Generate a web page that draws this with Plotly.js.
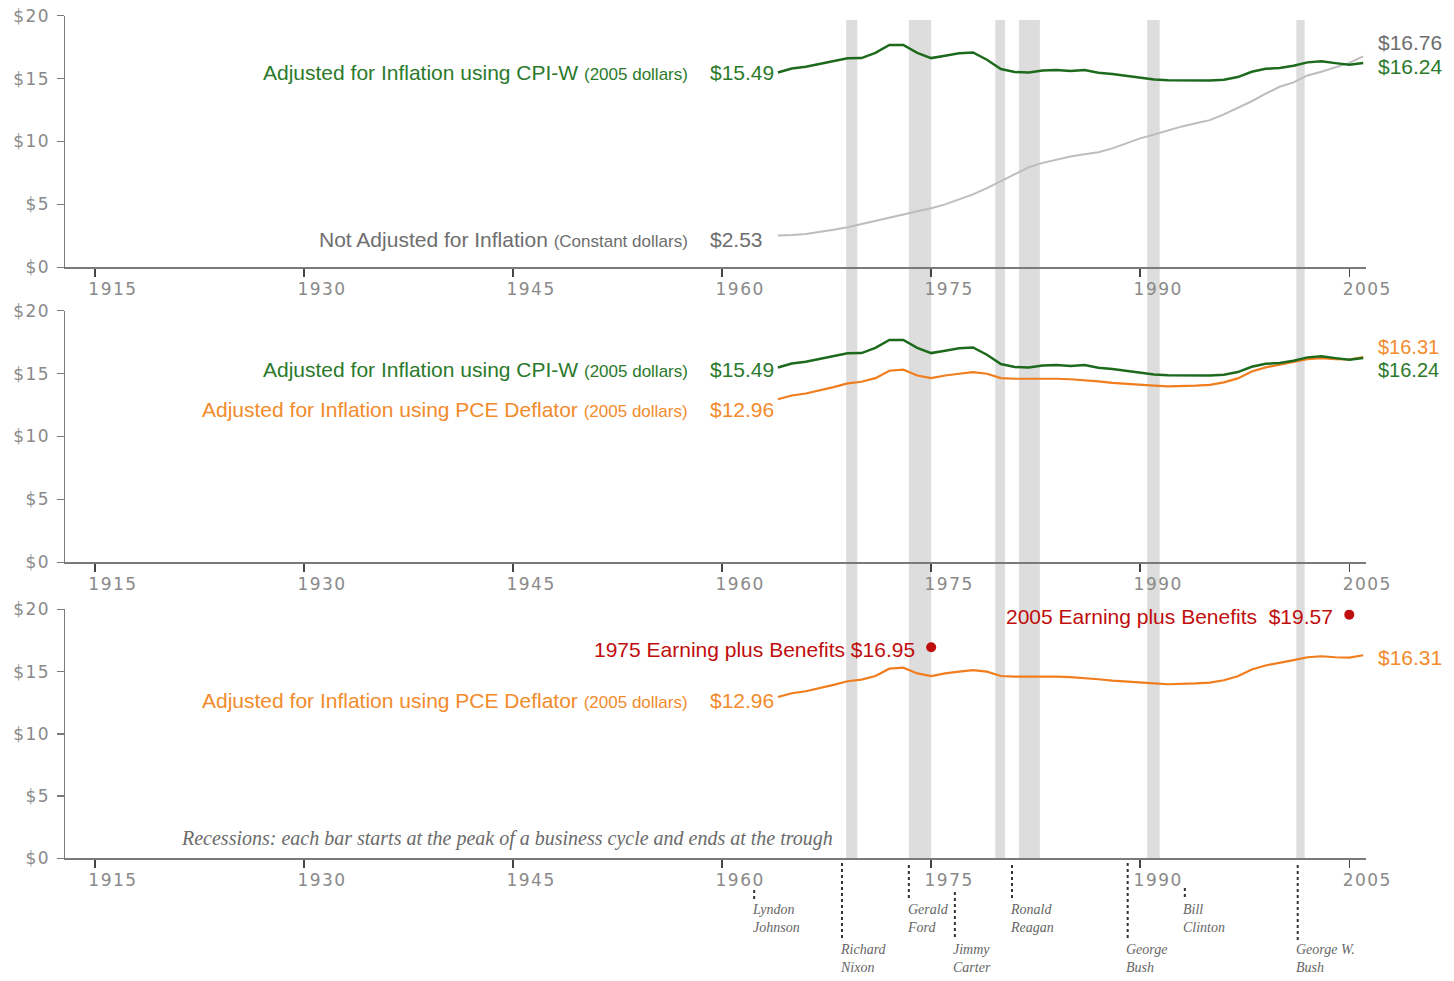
<!DOCTYPE html>
<html><head><meta charset="utf-8">
<script src="https://cdn.plot.ly/plotly-3.0.1.min.js"></script>
<style>
html,body{margin:0;padding:0;background:#fff}
#chart{width:1454px;height:981px}
g.xtick text, g.ytick text, g.x2tick text, g.y2tick text, g.x3tick text, g.y3tick text{letter-spacing:1.5px}
</style>
</head><body><div id="chart"></div>
<script>
// ---------------- data ----------------
const years = [1964,1965,1966,1967,1968,1969,1970,1971,1972,1973,1974,1975,1976,1977,1978,1979,1980,1981,1982,1983,1984,1985,1986,1987,1988,1989,1990,1991,1992,1993,1994,1995,1996,1997,1998,1999,2000,2001,2002,2003,2004,2005,2006];
const cpiW = [15.49,15.80,15.95,16.18,16.45,16.62,16.63,17.05,17.68,17.68,17.05,16.63,16.82,17.02,17.08,16.50,15.76,15.52,15.49,15.65,15.68,15.60,15.68,15.47,15.36,15.20,15.03,14.92,14.86,14.85,14.86,14.85,14.91,15.12,15.54,15.78,15.84,16.02,16.29,16.37,16.23,16.10,16.24];
const pce = [12.96,13.26,13.42,13.66,13.93,14.22,14.35,14.64,15.23,15.31,14.85,14.64,14.85,14.99,15.12,14.99,14.64,14.59,14.61,14.62,14.59,14.55,14.48,14.38,14.27,14.18,14.11,14.05,13.98,14.00,14.05,14.11,14.30,14.62,15.17,15.49,15.68,15.92,16.15,16.23,16.15,16.12,16.31];
const nominal = [2.53,2.56,2.65,2.80,2.98,3.18,3.42,3.66,3.93,4.20,4.45,4.69,5.00,5.38,5.80,6.30,6.85,7.45,7.95,8.30,8.55,8.80,8.98,9.15,9.45,9.85,10.25,10.55,10.88,11.20,11.45,11.70,12.15,12.65,13.20,13.80,14.35,14.70,15.25,15.55,15.90,16.25,16.76];
const recessionStart = [1968.9,1973.4,1979.6,1981.3,1990.5,2001.2];
const recessionEnd   = [1969.7,1975.0,1980.3,1982.8,1991.4,2001.8];
const benefitYears = [1975, 2005];
const benefitValues = [16.95, 19.57];
const presidentFirst = ['Lyndon','Richard','Gerald','Jimmy','Ronald','George','Bill','George W.'];
const presidentLast  = ['Johnson','Nixon','Ford','Carter','Reagan','Bush','Clinton','Bush'];
const presidentYear  = [1962.3,1968.6,1973.4,1976.7,1980.8,1989.1,1993.2,2001.3];
const xTickVals = [1915,1930,1945,1960,1975,1990,2005];
const yTickVals = [0,5,10,15,20];
const noteText = 'Recessions: each bar starts at the peak of a business cycle and ends at the trough';

// ---------------- styles / layout ----------------
const W = 1454, H = 981;
const py = p => 1 - p / H;
const GREEN_T = '#2b7a2b', GREEN_L = '#1d6a1d';
const ORANGE_T = '#f28b2c', ORANGE_L = '#f07d1e';
const GRAY_T = '#6e6e6e', GRAY_L = '#bdbdbd';
const RED = '#c00d0d';
const AXIS = '#7a7a7a', TICKF = '#8a8a8a';
const LABF = 'Liberation Sans, Arial, sans-serif';
const SERIF = 'Liberation Serif, Times New Roman, serif';

// president label rows: 0 = upper, 1 = lower
const presRow = [0,1,0,1,0,1,0,1];
const presLineTop = [890,863,865,892,865,863,888,865];
const rowLineBottom = [900, 940];
const rowTextCenter = [918, 958];

const xDomain = [65 / W, 1366 / W];
const xRange = [1912.85, 2006.2];
const panels = [[15.7, 267.3], [310.7, 562.3], [609.3, 858.3]];

function xAxis(anchor) {
  return {domain: xDomain, range: xRange, anchor: anchor, showgrid: false, zeroline: false,
    showline: true, linecolor: AXIS, linewidth: 1.5, ticks: 'outside', ticklen: 8, tickwidth: 1.5,
    tickcolor: '#444', tickvals: xTickVals, ticktext: xTickVals.map(String), ticklabelshift: 18,
    ticklabelstandoff: -2, tickfont: {family: 'DejaVu Sans, sans-serif', size: 17, color: TICKF},
    fixedrange: true};
}
function yAxis(anchor, idx) {
  const p = panels[idx];
  return {domain: [py(p[1]), py(p[0])], range: [0, 20], anchor: anchor, showgrid: false, zeroline: false,
    showline: true, linecolor: AXIS, linewidth: 1.5, ticks: 'outside', ticklen: 7, tickwidth: 1.5,
    tickcolor: AXIS, tickvals: yTickVals, ticktext: yTickVals.map(v => '$' + v), ticklabelstandoff: 3,
    tickfont: {family: 'DejaVu Sans, sans-serif', size: 17, color: TICKF}, fixedrange: true};
}

const traces = [
  {x: years, y: nominal, xaxis: 'x', yaxis: 'y', mode: 'lines', line: {color: GRAY_L, width: 2}, hoverinfo: 'skip'},
  {x: years, y: cpiW, xaxis: 'x', yaxis: 'y', mode: 'lines', line: {color: GREEN_L, width: 2.5}, hoverinfo: 'skip'},
  {x: years, y: pce, xaxis: 'x2', yaxis: 'y2', mode: 'lines', line: {color: ORANGE_L, width: 2.2}, hoverinfo: 'skip'},
  {x: years, y: cpiW, xaxis: 'x2', yaxis: 'y2', mode: 'lines', line: {color: GREEN_L, width: 2.5}, hoverinfo: 'skip'},
  {x: years, y: pce, xaxis: 'x3', yaxis: 'y3', mode: 'lines', line: {color: ORANGE_L, width: 2.2}, hoverinfo: 'skip'},
  {x: benefitYears, y: benefitValues, xaxis: 'x3', yaxis: 'y3', mode: 'markers',
   marker: {color: RED, size: 10}, hoverinfo: 'skip'}
];

const shapes = [];
recessionStart.forEach((s, i) => {
  shapes.push({type: 'rect', xref: 'x', yref: 'paper', x0: s, x1: recessionEnd[i], y0: py(858.3), y1: py(20),
    fillcolor: '#dcdddc', line: {width: 0}, layer: 'below'});
});
presidentYear.forEach((yr, i) => {
  shapes.push({type: 'line', xref: 'x', yref: 'paper', x0: yr, x1: yr, y0: py(presLineTop[i]), y1: py(rowLineBottom[presRow[i]]),
    line: {color: '#333', width: 2, dash: 'dot'}});
});

const last = years.length - 1;
const x0 = years[0], xEnd = years[last];
function lab(xa, ya, x, y, text, color, opts) {
  return Object.assign({xref: xa, yref: ya, x: x, y: y, text: text, showarrow: false,
    font: {family: LABF, size: 21, color: color}, yanchor: 'middle'}, opts);
}
const small = t => '<span style="font-size:17px">' + t + '</span>';
const money = v => '$' + v.toFixed(2);
const vfont = (c, s) => ({family: LABF, size: s || 21, color: c});

const annotations = [
  // panel 1
  lab('x', 'y', x0, cpiW[0], 'Adjusted for Inflation using CPI-W ' + small('(2005 dollars)'), GREEN_T, {xanchor: 'right', xshift: -88}),
  lab('x', 'y', x0, cpiW[0], money(cpiW[0]), GREEN_T, {xanchor: 'left', xshift: -70, font: vfont(GREEN_T)}),
  lab('x', 'y', x0, nominal[0], 'Not Adjusted for Inflation ' + small('(Constant dollars)'), GRAY_T, {xanchor: 'right', xshift: -88, yshift: -4}),
  lab('x', 'y', x0, nominal[0], money(nominal[0]), GRAY_T, {xanchor: 'left', xshift: -70, yshift: -4, font: vfont(GRAY_T)}),
  lab('x', 'y', xEnd, nominal[last], money(nominal[last]), GRAY_T, {xanchor: 'left', xshift: 13, yshift: 14, font: vfont(GRAY_T)}),
  lab('x', 'y', xEnd, cpiW[last], money(cpiW[last]), GREEN_T, {xanchor: 'left', xshift: 13, yshift: -3, font: vfont(GREEN_T)}),
  // panel 2
  lab('x2', 'y2', x0, cpiW[0], 'Adjusted for Inflation using CPI-W ' + small('(2005 dollars)'), GREEN_T, {xanchor: 'right', xshift: -88, yshift: -2}),
  lab('x2', 'y2', x0, cpiW[0], money(cpiW[0]), GREEN_T, {xanchor: 'left', xshift: -70, yshift: -2, font: vfont(GREEN_T)}),
  lab('x2', 'y2', x0, pce[0], 'Adjusted for Inflation using PCE Deflator ' + small('(2005 dollars)'), ORANGE_T, {xanchor: 'right', xshift: -88, yshift: -10}),
  lab('x2', 'y2', x0, pce[0], money(pce[0]), ORANGE_T, {xanchor: 'left', xshift: -70, yshift: -10, font: vfont(ORANGE_T)}),
  lab('x2', 'y2', xEnd, pce[last], money(pce[last]), ORANGE_T, {xanchor: 'left', xshift: 13, yshift: 10, font: vfont(ORANGE_T, 20)}),
  lab('x2', 'y2', xEnd, cpiW[last], money(cpiW[last]), GREEN_T, {xanchor: 'left', xshift: 13, yshift: -12, font: vfont(GREEN_T, 20)}),
  // panel 3
  lab('x3', 'y3', x0, pce[0], 'Adjusted for Inflation using PCE Deflator ' + small('(2005 dollars)'), ORANGE_T, {xanchor: 'right', xshift: -88, yshift: -4}),
  lab('x3', 'y3', x0, pce[0], money(pce[0]), ORANGE_T, {xanchor: 'left', xshift: -70, yshift: -4, font: vfont(ORANGE_T)}),
  lab('x3', 'y3', xEnd, pce[last], money(pce[last]), ORANGE_T, {xanchor: 'left', xshift: 13, yshift: -2, font: vfont(ORANGE_T)}),
  lab('x3', 'y3', benefitYears[0], benefitValues[0], benefitYears[0] + ' Earning plus Benefits ' + money(benefitValues[0]), RED, {xanchor: 'right', xshift: -14, yshift: -2}),
  lab('x3', 'y3', benefitYears[1], benefitValues[1], benefitYears[1] + ' Earning plus Benefits&nbsp; ' + money(benefitValues[1]), RED, {xanchor: 'right', xshift: -14, yshift: -2}),
  // recession note
  {xref: 'paper', yref: 'paper', x: 835 / W, y: py(838), xanchor: 'right', yanchor: 'middle', showarrow: false,
   text: '<i>' + noteText + '</i>', font: {family: SERIF, size: 20, color: '#6a6a6a'}}
];
presidentYear.forEach((yr, i) => {
  annotations.push({xref: 'x', yref: 'paper', x: yr, y: py(rowTextCenter[presRow[i]]), xanchor: 'left', yanchor: 'middle',
    xshift: -4, showarrow: false, align: 'left',
    text: '<i>' + presidentFirst[i] + '<br>' + presidentLast[i] + '</i>',
    font: {family: SERIF, size: 14, color: '#666'}});
});

const layout = {
  width: W, height: H, margin: {l: 0, r: 0, t: 0, b: 0}, paper_bgcolor: '#fff', plot_bgcolor: 'rgba(0,0,0,0)',
  showlegend: false,
  xaxis: xAxis('y'), yaxis: yAxis('x', 0),
  xaxis2: xAxis('y2'), yaxis2: yAxis('x2', 1),
  xaxis3: xAxis('y3'), yaxis3: yAxis('x3', 2),
  shapes: shapes, annotations: annotations
};
Plotly.newPlot('chart', traces, layout, {staticPlot: true, displayModeBar: false});
</script></body></html>
